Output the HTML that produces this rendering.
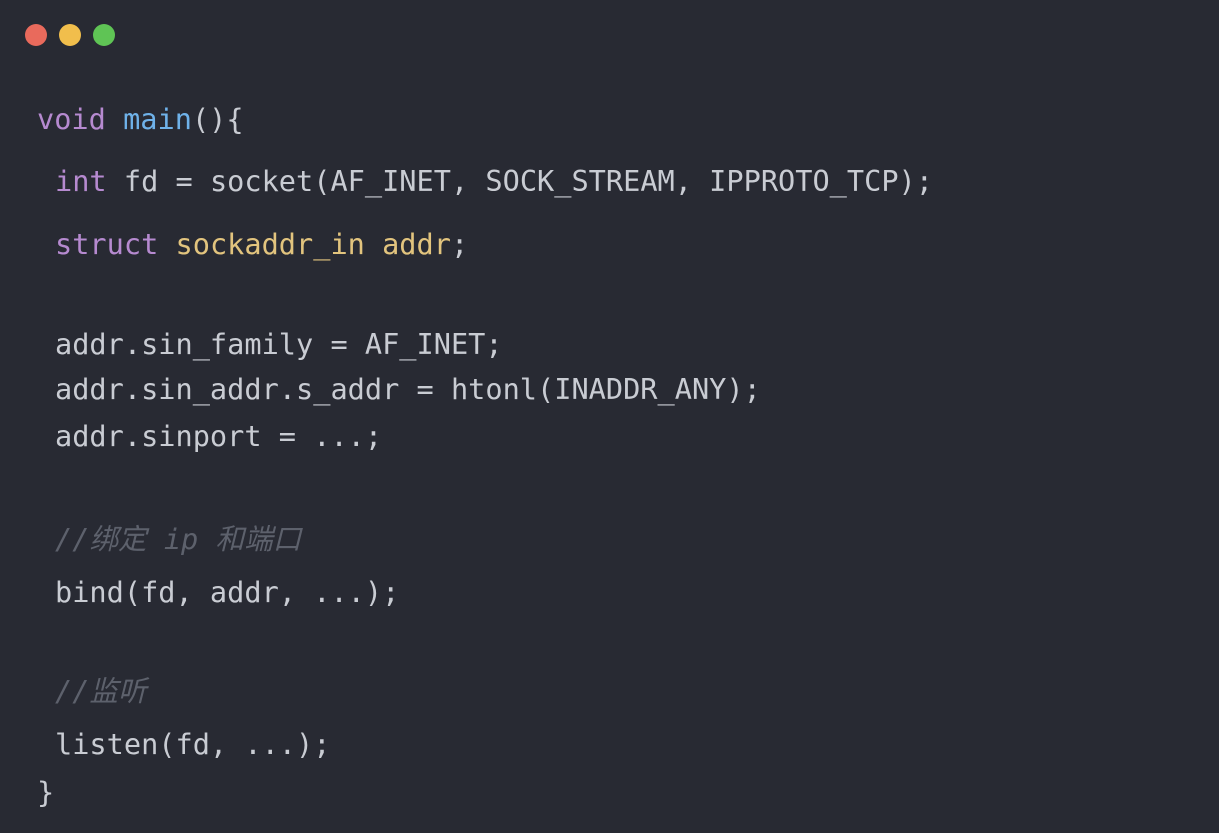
<!DOCTYPE html>
<html><head><meta charset="utf-8"><style>
html,body{margin:0;padding:0;}
body{width:1219px;height:837px;background:#fff;position:relative;overflow:hidden;}
.bg{position:absolute;left:0;top:0;width:1219px;height:833px;background:#282a33;}
.dot{position:absolute;width:22px;height:22px;border-radius:50%;top:24px;}
.l{position:absolute;left:55px;height:40px;line-height:40px;font-family:"DejaVu Sans Mono","Noto Sans CJK SC",monospace;font-size:28.6px;color:#c9ccd3;white-space:pre;}
.p{color:#b68ad0}.b{color:#6fb2ea}.y{color:#e2c47e}.c{color:#5d616c;font-style:italic}
</style></head><body>
<div class="bg"></div>
<div class="dot" style="left:25px;background:#e96a5c"></div>
<div class="dot" style="left:59px;background:#f1be4c"></div>
<div class="dot" style="left:93px;background:#5fc455"></div>
<div class="l" style="left:37px;top:99px"><span class="p">void</span> <span class="b">main</span>(){</div>
<div class="l" style="top:161px"><span class="p">int</span> fd = socket(AF_INET, SOCK_STREAM, IPPROTO_TCP);</div>
<div class="l" style="top:224px"><span class="p">struct</span> <span class="y">sockaddr_in addr</span>;</div>
<div class="l" style="top:324px">addr.sin_family = AF_INET;</div>
<div class="l" style="top:369px">addr.sin_addr.s_addr = htonl(INADDR_ANY);</div>
<div class="l" style="top:416px">addr.sinport = ...;</div>
<div class="l c" style="top:519px">//绑定 ip 和端口</div>
<div class="l" style="top:572px">bind(fd, addr, ...);</div>
<div class="l c" style="top:671px">//监听</div>
<div class="l" style="top:724px">listen(fd, ...);</div>
<div class="l" style="left:37px;top:772px">}</div>
</body></html>
